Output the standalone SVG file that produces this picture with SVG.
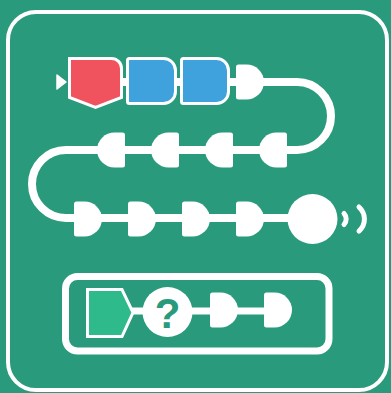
<svg xmlns="http://www.w3.org/2000/svg" width="391" height="393" viewBox="0 0 391 393">
<defs>
<style>
.line{fill:none;stroke:#fff;stroke-width:8;stroke-linecap:butt}
.w{fill:#fff}
.blk{stroke:#fff;stroke-width:3}
.wave{fill:none;stroke:#fff;stroke-width:5;stroke-linecap:round}
</style>
<path id="bead" d="M0,-15 Q0,-17.5 2.5,-17.5 H10.5 A17.5,17.5 0 0 1 10.5,17.5 H2.5 Q0,17.5 0,15 Z" fill="#fff"/>
</defs>
<rect x="0" y="0" width="391" height="393" fill="#299a7b"/>
<rect id="frame" x="8" y="12" width="379" height="378" rx="28" fill="none" stroke="#fff" stroke-width="4"/>
<g id="connectors">
<path class="line" d="M122,82 H297 A34,34 0 0 1 297,150 H66 A34,34 0 0 0 66,218 H312"/>
<path class="line" stroke-width="7" d="M130,311 H264" style="stroke-width:7"/>
<path class="wave" d="M344,213.5 A8,8 0 0 1 344,224.5"/>
<path class="wave" d="M359,207 A16,16 0 0 1 359,231"/>
</g>
<g id="start"><path d="M57,75 L66,82 L57,89 Z" fill="#fff" stroke="#fff" stroke-width="1.5" stroke-linejoin="round"/></g>
<g id="red-block"><path class="blk" fill="#f0525e" d="M69.5,58.5 H111.5 A10,10 0 0 1 121.5,68.5 V97.5 L95.5,107.5 L69.5,97.5 Z"/></g>
<g id="blue-block-1"><path class="blk" fill="#3fa2dc" d="M129.5,58.5 H163.5 A12,12 0 0 1 175.5,70.5 V91.5 A12,12 0 0 1 163.5,103.5 H129.5 A2,2 0 0 1 127.5,101.5 V60.5 A2,2 0 0 1 129.5,58.5 Z"/></g>
<g id="blue-block-2"><path class="blk" fill="#3fa2dc" d="M183.5,58.5 H216.5 A12,12 0 0 1 228.5,70.5 V91.5 A12,12 0 0 1 216.5,103.5 H183.5 A2,2 0 0 1 181.5,101.5 V60.5 A2,2 0 0 1 183.5,58.5 Z"/></g>
<g id="bead-r1-1"><use href="#bead" transform="translate(236,82)"/></g>
<g id="bead-r2-1"><use href="#bead" transform="translate(287,150) scale(-1,1)"/></g>
<g id="bead-r2-2"><use href="#bead" transform="translate(233,150) scale(-1,1)"/></g>
<g id="bead-r2-3"><use href="#bead" transform="translate(179,150) scale(-1,1)"/></g>
<g id="bead-r2-4"><use href="#bead" transform="translate(125,150) scale(-1,1)"/></g>
<g id="bead-r3-1"><use href="#bead" transform="translate(74,219)"/></g>
<g id="bead-r3-2"><use href="#bead" transform="translate(128,219)"/></g>
<g id="bead-r3-3"><use href="#bead" transform="translate(182,219)"/></g>
<g id="bead-r3-4"><use href="#bead" transform="translate(236,219)"/></g>
<g id="end-circle"><circle cx="312.5" cy="219" r="25" fill="#fff"/></g>
<g id="legend-box"><rect x="65.5" y="276.5" width="263.5" height="74.5" rx="12" fill="none" stroke="#fff" stroke-width="7"/></g>
<g id="legend-arrow"><path d="M87.5,289.5 H122 L133,312.5 L122,336.5 H87.5 Z" fill="#2fba8b" stroke="#fff" stroke-width="3"/></g>
<g id="legend-question"><circle cx="167.5" cy="312" r="25" fill="#fff"/><text x="167.5" y="328" text-anchor="middle" font-family="Liberation Sans, Arial, sans-serif" font-weight="bold" font-size="42" fill="#299a7b">?</text></g>
<g id="legend-bead-1"><use href="#bead" transform="translate(210,310)"/></g>
<g id="legend-bead-2"><use href="#bead" transform="translate(264,310)"/></g>
</svg>
